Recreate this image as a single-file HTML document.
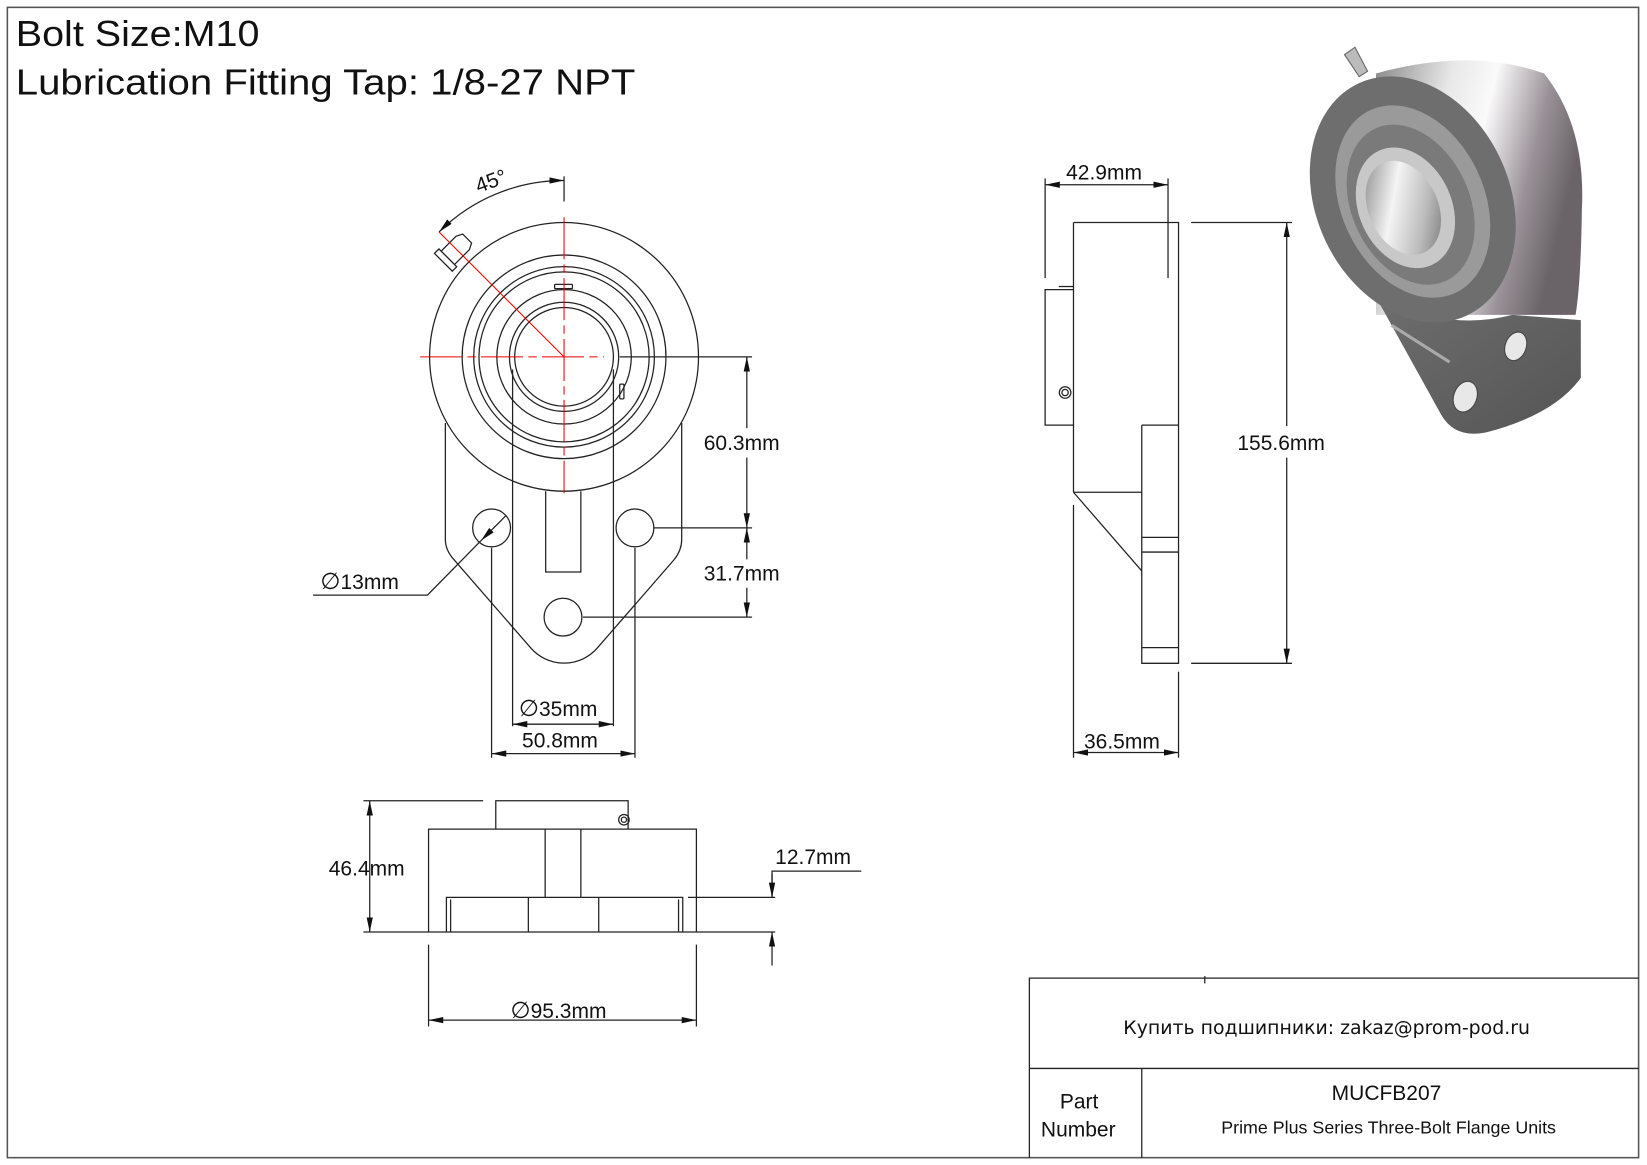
<!DOCTYPE html>
<html><head><meta charset="utf-8"><style>
html,body{margin:0;padding:0;background:#fff;}
svg{display:block;}
text{font-family:"Liberation Sans",Arial,sans-serif;fill:#111;}
</style></head><body>
<svg width="1647" height="1165" viewBox="0 0 1568 1110" preserveAspectRatio="none" xmlns="http://www.w3.org/2000/svg">
<defs>
<marker id="a" viewBox="0 0 14 6" refX="14" refY="3" markerWidth="14" markerHeight="6" markerUnits="userSpaceOnUse" orient="auto-start-reverse"><path d="M0,0 L14,3 L0,6 z" fill="#111"/></marker>
<linearGradient id="cyl" x1="0" y1="0" x2="1" y2="0.3"><stop offset="0" stop-color="#8a8a8a"/><stop offset="0.35" stop-color="#e8e8e8"/><stop offset="0.55" stop-color="#fafafa"/><stop offset="0.8" stop-color="#9a9298"/><stop offset="1" stop-color="#6a6468"/></linearGradient>
<linearGradient id="bore" x1="0" y1="0" x2="1" y2="1"><stop offset="0" stop-color="#777"/><stop offset="0.4" stop-color="#f4f4f4"/><stop offset="0.7" stop-color="#bbb"/><stop offset="1" stop-color="#666"/></linearGradient>
<linearGradient id="lobe" x1="0" y1="0" x2="1" y2="1"><stop offset="0" stop-color="#707070"/><stop offset="1" stop-color="#555"/></linearGradient>
</defs>
<rect x="7" y="7" width="1553" height="1096" fill="none" stroke="#555" stroke-width="1.5"/>
<text x="15" y="44" font-size="34" textLength="232" lengthAdjust="spacingAndGlyphs">Bolt Size:M10</text>
<text x="15" y="90" font-size="34" textLength="590" lengthAdjust="spacingAndGlyphs">Lubrication Fitting Tap: 1/8-27 NPT</text>

<!-- 3D render -->
<g>
<path d="M1310,70 Q1400,45 1470,70 Q1510,120 1506,200 Q1505,270 1500,300 L1310,300 Z" fill="url(#cyl)"/>
<path d="M1300,265 Q1360,320 1440,300 L1505,305 L1505,360 Q1480,395 1415,412 Q1385,418 1372,395 Z" fill="url(#lobe)"/>
<path d="M1325,310 L1380,345" stroke="#aaa" stroke-width="3"/>
<ellipse cx="1395" cy="378" rx="11" ry="15" transform="rotate(20 1395 378)" fill="#e8e8e8" stroke="#444"/>
<ellipse cx="1443" cy="330" rx="10" ry="14" transform="rotate(20 1443 330)" fill="#e8e8e8" stroke="#444"/>
<ellipse cx="1345" cy="190" rx="92" ry="122" transform="rotate(-25 1345 190)" fill="#6e6e6e"/>
<ellipse cx="1345" cy="192" rx="68" ry="96" transform="rotate(-25 1345 192)" fill="#9a9a9a"/>
<ellipse cx="1343" cy="195" rx="56" ry="80" transform="rotate(-25 1343 195)" fill="#7a7a7a"/>
<ellipse cx="1338" cy="198" rx="44" ry="60" transform="rotate(-25 1338 198)" fill="#c8c8c8"/>
<ellipse cx="1336" cy="198" rx="33" ry="47" transform="rotate(-25 1336 198)" fill="url(#bore)"/>
<path d="M1280,52 L1290,45 L1302,68 L1294,73 Z" fill="#bbb" stroke="#666"/>
</g>

<g fill="none" stroke="#222" stroke-width="1.2">
<!-- front view -->
<path d="M424,403 L424,514 Q424,524 432,533 L505,617 A42,42 0 0 0 569,617 L642,533 Q649,524 649,514 L649,403"/>
<circle cx="537" cy="340" r="128" fill="#fff"/>
<circle cx="537" cy="340" r="97"/>
<circle cx="537" cy="340" r="86"/>
<circle cx="537" cy="340" r="81"/>
<circle cx="537" cy="340" r="64"/>
<circle cx="537" cy="340" r="52"/>
<circle cx="537" cy="340" r="47"/>
<rect x="528" y="271" width="17" height="4" rx="1"/>
<rect x="590" y="366" width="4" height="14" rx="1"/>
<path d="M519.5,468 L519.5,545 L553,545 L553,468"/>
<circle cx="468" cy="503" r="18"/>
<circle cx="604.5" cy="503" r="18"/>
<circle cx="536" cy="588" r="18"/>
<g transform="rotate(45 432 240)"><path d="M426,222 L438,222 L441,228 L441,248 L423,248 L423,228 Z" fill="#fff"/><path d="M420,248 L444,248 L444,254 L420,254 Z" fill="#fff"/></g>
<line x1="488" y1="352" x2="488" y2="692"/>
<line x1="584" y1="352" x2="584" y2="692"/>
<line x1="468" y1="522" x2="468" y2="722"/>
<line x1="604.5" y1="522" x2="604.5" y2="722"/>
<line x1="590" y1="340" x2="716" y2="340"/>
<line x1="622" y1="503" x2="716" y2="503"/>
<line x1="555" y1="588" x2="716" y2="588"/>
<line x1="711" y1="340" x2="711" y2="408" marker-start="url(#a)"/>
<line x1="711" y1="436" x2="711" y2="503" marker-end="url(#a)"/>
<line x1="711" y1="503" x2="711" y2="533" marker-start="url(#a)"/>
<line x1="711" y1="560" x2="711" y2="588" marker-end="url(#a)"/>
<line x1="488" y1="690" x2="584" y2="690" marker-start="url(#a)" marker-end="url(#a)"/>
<line x1="468" y1="718" x2="604.5" y2="718" marker-start="url(#a)" marker-end="url(#a)"/>
<path d="M298,567 L407,567 L458,515" />
<line x1="458" y1="515" x2="482" y2="491" marker-start="url(#a)"/>
<line x1="537" y1="168" x2="537" y2="192"/>
<path d="M537,172 A168,168 0 0 0 418,221" marker-start="url(#a)" marker-end="url(#a)"/>

<!-- side view -->
<path d="M1022,212 L1122,212 L1122,632 L1087,632 L1087,405"/>
<line x1="1087" y1="405" x2="1122" y2="405"/>
<line x1="1022" y1="212" x2="1022" y2="469"/>
<line x1="1022" y1="469" x2="1087" y2="469"/>
<line x1="1022" y1="469" x2="1087" y2="544"/>
<line x1="1087" y1="512" x2="1122" y2="512"/>
<line x1="1087" y1="526" x2="1122" y2="526"/>
<line x1="1087" y1="617" x2="1122" y2="617"/>
<path d="M1022,276 L995,276 L995,405 L1022,405"/>
<path d="M1008,273 L1022,273"/>
<circle cx="1014" cy="374" r="5.5"/><circle cx="1014" cy="374" r="3"/>
<line x1="995" y1="170" x2="995" y2="265"/>
<line x1="1112" y1="170" x2="1112" y2="265"/>
<line x1="995" y1="176" x2="1112" y2="176" marker-start="url(#a)" marker-end="url(#a)"/>
<line x1="1022" y1="481" x2="1022" y2="722"/>
<line x1="1122" y1="640" x2="1122" y2="722"/>
<line x1="1022" y1="717" x2="1122" y2="717" marker-start="url(#a)" marker-end="url(#a)"/>
<line x1="1134" y1="212" x2="1230" y2="212"/>
<line x1="1134" y1="632" x2="1230" y2="632"/>
<line x1="1225" y1="212" x2="1225" y2="406" marker-start="url(#a)"/>
<line x1="1225" y1="436" x2="1225" y2="632" marker-end="url(#a)"/>

<!-- bottom view -->
<path d="M408,888 L408,790 L663,790 L663,888"/>
<path d="M472,790 L472,763 L598,763 L598,790"/>
<line x1="519" y1="790" x2="519" y2="855"/>
<line x1="553" y1="790" x2="553" y2="855"/>
<path d="M425,888 L425,855 L650,855 L650,888"/>
<line x1="429" y1="857" x2="429" y2="888"/>
<line x1="646" y1="857" x2="646" y2="888"/>
<line x1="503" y1="855" x2="503" y2="888"/>
<line x1="570" y1="855" x2="570" y2="888"/>
<circle cx="594" cy="781" r="5"/><circle cx="594" cy="781" r="2.5"/>
<line x1="346" y1="888" x2="738" y2="888"/>
<line x1="346" y1="763" x2="460" y2="763"/>
<line x1="352" y1="763" x2="352" y2="888" marker-start="url(#a)" marker-end="url(#a)"/>
<line x1="655" y1="855" x2="738" y2="855"/>
<path d="M735,855 L735,830 L820,830"/>
<line x1="735" y1="833" x2="735" y2="855" marker-end="url(#a)"/>
<line x1="735" y1="920" x2="735" y2="888" marker-end="url(#a)"/>
<line x1="408" y1="900" x2="408" y2="978"/>
<line x1="663" y1="900" x2="663" y2="978"/>
<line x1="408" y1="972" x2="663" y2="972" marker-start="url(#a)" marker-end="url(#a)"/>

<!-- table -->
<path d="M980,1103 L980,932 L1560,932"/>
<line x1="980" y1="1018" x2="1560" y2="1018"/>
<line x1="1087" y1="1018" x2="1087" y2="1103"/>
<line x1="1147" y1="930" x2="1147" y2="937"/>
</g>

<g stroke="#e00" stroke-width="1" fill="none">
<line x1="400" y1="340" x2="575" y2="340" stroke-dasharray="40,5,8,5"/>
<line x1="537" y1="207" x2="537" y2="470" stroke-dasharray="40,5,8,5"/>
<line x1="418" y1="221" x2="537" y2="340"/>
</g>

<g font-size="20">
<text x="452" y="180" transform="rotate(-20 465 172)">45°</text>
<text x="670" y="429">60.3mm</text>
<text x="670" y="553">31.7mm</text>
<text x="305" y="561"><tspan font-size="22">∅</tspan>13mm</text>
<text x="494" y="682"><tspan font-size="22">∅</tspan>35mm</text>
<text x="497" y="712">50.8mm</text>
<text x="1015" y="171">42.9mm</text>
<text x="1178" y="429">155.6mm</text>
<text x="1032" y="713">36.5mm</text>
<text x="313" y="834">46.4mm</text>
<text x="738" y="823">12.7mm</text>
<text x="486" y="970"><tspan font-size="22">∅</tspan>95.3mm</text>
<text x="1009" y="1056">Part</text>
<text x="991" y="1083">Number</text>
<text x="1320" y="1048" text-anchor="middle">MUCFB207</text>
<text x="1322" y="1080" text-anchor="middle" font-size="17">Prime Plus Series Three-Bolt Flange Units</text>
<text x="1263" y="985" text-anchor="middle" font-size="18" style="font-family:'DejaVu Sans',sans-serif">Купить подшипники: zakaz@prom-pod.ru</text>
</g>
</svg>
</body></html>
